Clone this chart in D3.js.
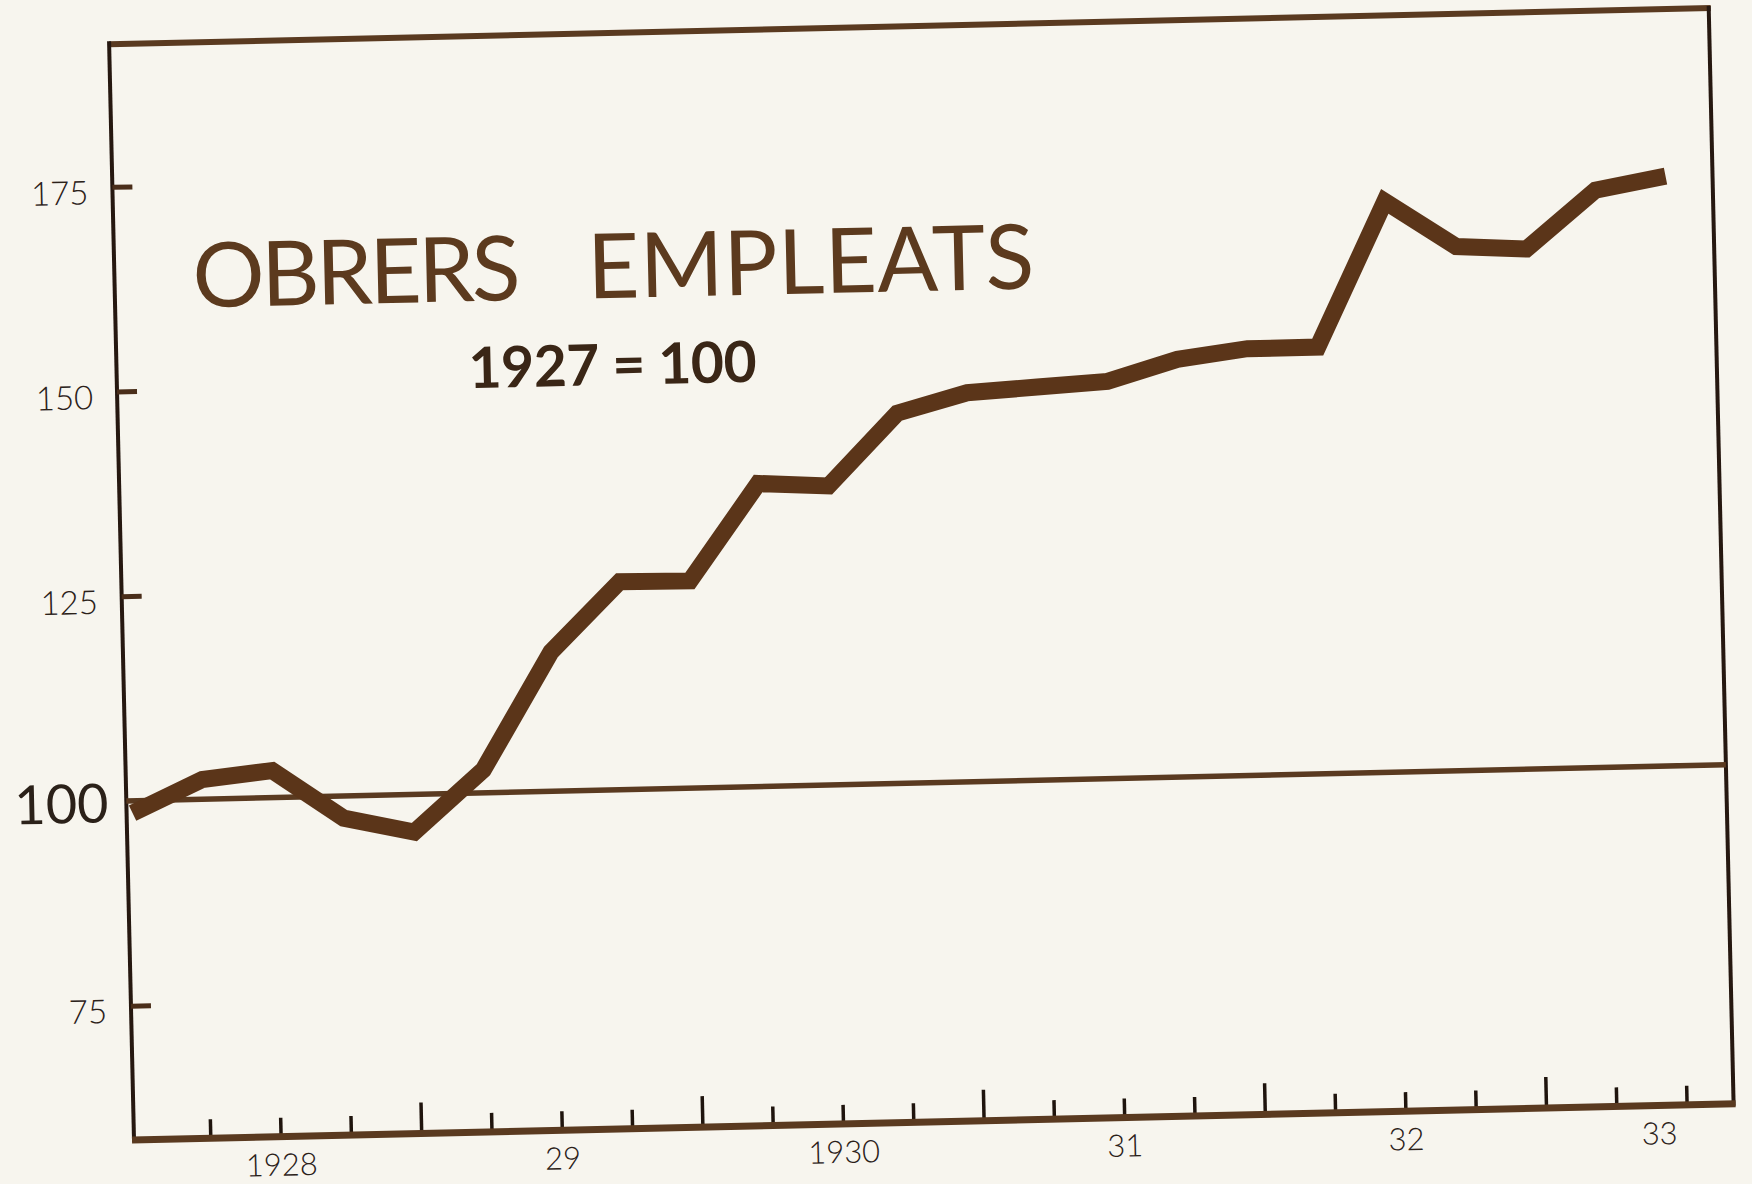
<html>
<head>
<meta charset="utf-8">
<title>Obrers empleats</title>
<style>
  body { margin: 0; background: #f7f5ee; }
  text { font-family: Lato, "Open Sans", sans-serif; }
</style>
</head>
<body>
<script src="https://cdn.jsdelivr.net/npm/d3@7"></script>
<script>

// quarters counted from January 1928 (0) to mid 1933 (22)
var quarters = [0, 1, 2, 3, 4, 5, 6, 7, 8, 9, 10, 11, 12, 13, 14, 15, 16, 17, 18, 19, 20, 21, 22];
// index of employed workers, 1927 = 100
var workers = [98.5, 102.4, 103.3, 97.3, 95.4, 102.8, 117.0, 125.4, 125.3, 137.0, 136.5, 145.2,
               147.5, 148.0, 148.5, 151.0, 152.1, 152.1, 169.7, 164.0, 163.5, 170.5, 172.0];

var yTicks = [75, 100, 125, 150, 175];
var tickQuarters = [1, 2, 3, 4, 5, 6, 7, 8, 9, 10, 11, 12, 13, 14, 15, 16, 17, 18, 19, 20, 21, 22];
var xLabels = ["1928", "29", "1930", "31", "32", "33"];
var xLabelAt = [2, 6, 10, 14, 18, 21.6];

var w = 1752, h = 1184;
// frame of the chart (before the small tilt of the scan)
var fLeft = 134, fRight = 1734, fTop = 44, fBottom = 1140;

var brown = "#5b3519", dark = "#261810", ink = "#2b2119";

var svg = d3.select("body").append("svg")
    .attr("width", w)
    .attr("height", h);

svg.append("rect")
    .attr("width", w)
    .attr("height", h)
    .attr("fill", "#f7f5ee");

var x = d3.scaleLinear().domain([0, 22]).range([140, 1687]);
var y = d3.scaleLinear().domain([75, 175]).range([1005.6, 186.6]);

// whole sheet is slightly tilted
var g = svg.append("g")
    .attr("transform", "rotate(-1.3," + fLeft + "," + fBottom + ")");

// frame
g.append("line").attr("x1", fLeft).attr("y1", fTop).attr("x2", fRight + 2).attr("y2", fTop)
    .attr("stroke", "#5a3a20").attr("stroke-width", 6);
g.append("line").attr("x1", fRight).attr("y1", fTop - 2).attr("x2", fRight).attr("y2", fBottom + 2)
    .attr("stroke", dark).attr("stroke-width", 4);
g.append("line").attr("x1", fLeft).attr("y1", fTop - 3).attr("x2", fLeft).attr("y2", fBottom + 2)
    .attr("stroke", dark).attr("stroke-width", 4);

// y axis, ticks pointing inside
var yAxis = g.append("g")
    .attr("transform", "translate(" + fLeft + ",0)")
    .call(d3.axisLeft(y).tickValues(yTicks).tickSizeInner(-20).tickSizeOuter(0).tickPadding(24));
yAxis.select(".domain").remove();
yAxis.selectAll(".tick line")
    .attr("stroke", "#4a2e1a")
    .attr("stroke-width", 5)
    .attr("display", function(d){ return d == 100 ? "none" : null; });
yAxis.selectAll(".tick text")
    .attr("fill", ink)
    .attr("font-weight", function(d){ return d == 100 ? 400 : 300; })
    .attr("font-size", function(d){ return d == 100 ? 54 : 33; })
    .attr("x", function(d){ return d == 100 ? -18 : -24; })
    .attr("dy", function(d){ return d == 100 ? "0.38em" : "0.5em"; });

// base line 1927 = 100
g.append("line")
    .attr("x1", fLeft).attr("x2", fRight)
    .attr("y1", y(100)).attr("y2", y(100))
    .attr("stroke", "#5a3a20")
    .attr("stroke-width", 5.5);

// x axis ticks, longer at each new year
var xAxis = g.append("g")
    .attr("transform", "translate(0," + fBottom + ")")
    .call(d3.axisBottom(x).tickValues(tickQuarters).tickSizeInner(-19).tickSizeOuter(0).tickFormat(""));
xAxis.select(".domain").remove();
xAxis.selectAll(".tick line")
    .attr("stroke", "#1f140d")
    .attr("stroke-width", 3.5)
    .attr("y2", function(d){ return d % 4 == 0 ? -31 : -19; });

var xLab = g.append("g")
    .attr("transform", "translate(0," + fBottom + ")")
    .call(d3.axisBottom(x).tickValues(xLabelAt).tickSize(0).tickPadding(17)
      .tickFormat(function(d, i){ return xLabels[i]; }));
xLab.select(".domain").remove();
xLab.selectAll(".tick text")
    .attr("fill", ink)
    .attr("font-size", 31)
    .attr("font-weight", 300);

g.append("line")
    .attr("x1", fLeft - 2).attr("x2", fRight + 2)
    .attr("y1", fBottom).attr("y2", fBottom)
    .attr("stroke", "#5a3a20")
    .attr("stroke-width", 7);

// the series
var line = d3.line()
    .x(function(d, i){ return x(quarters[i]); })
    .y(function(d){ return y(d); });

g.append("path")
    .datum(workers)
    .attr("d", line)
    .attr("fill", "none")
    .attr("stroke", brown)
    .attr("stroke-width", 17)
    .attr("stroke-linejoin", "miter")
    .attr("stroke-miterlimit", 10);

// title
g.append("text")
    .attr("x", 212).attr("y", 309)
    .attr("font-size", 90)
    .attr("textLength", 328)
    .attr("lengthAdjust", "spacing")
    .attr("fill", "#5c3a1e")
    .text("OBRERS");
g.append("text")
    .attr("x", 607).attr("y", 309)
    .attr("font-size", 90)
    .attr("textLength", 447)
    .attr("lengthAdjust", "spacing")
    .attr("fill", "#5c3a1e")
    .text("EMPLEATS");
g.append("text")
    .attr("x", 486).attr("y", 396)
    .attr("font-size", 57)
    .attr("font-weight", 700)
    .attr("textLength", 288)
    .attr("lengthAdjust", "spacing")
    .attr("fill", "#3a2616")
    .text("1927 = 100");

</script>
</body>
</html>
